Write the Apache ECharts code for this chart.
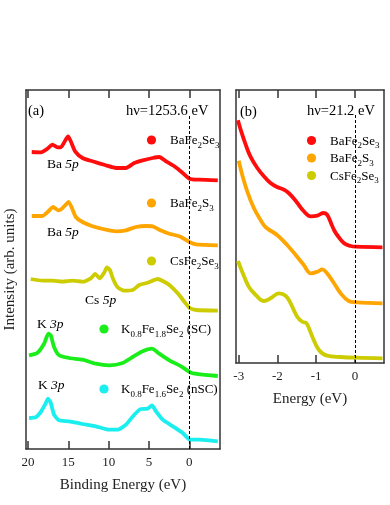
<!DOCTYPE html>
<html>
<head>
<meta charset="utf-8">
<script src="https://cdn.jsdelivr.net/npm/echarts@6/dist/echarts.min.js"></script>
<style>html,body{margin:0;padding:0;background:#fff;}#c{width:390px;height:505px;}</style>
</head>
<body>
<div id="c"></div>
<script>
// ---- Panel (a): XPS, hv = 1253.6 eV  [binding energy (eV), intensity (arb.)]
const xpsBaFe2Se3 = [[19.54,297],[18.42,296.7],[17.59,300.3],[16.97,304.3],[16.35,301.7],[15.94,301.7],[15.40,308.3],[15.03,312.7],[14.70,307.7],[14.16,297.7],[13.24,291],[12.0,287.7],[10.35,283.7],[9.1,281],[7.86,281],[6.83,286],[5.79,288.7],[4.55,291],[3.73,292],[2.89,287.7],[1.86,282.7],[0.82,276],[0,270.3],[-1.24,269.3],[-3.53,268.7]];
const xpsBaFe2S3 = [[19.54,233],[18.21,233],[17.47,237.7],[16.89,242],[16.27,238.7],[15.81,240.3],[15.32,244.3],[14.98,247],[14.61,242],[14.07,232],[13.24,227],[12.0,222.7],[10.35,219.3],[9.1,217.7],[7.86,218.7],[6.62,222],[5.38,223],[4.55,222.7],[3.73,219.3],[2.48,215.3],[1.24,212.7],[0,207],[-0.83,204.7],[-3.53,203.7]];
const xpsCsFe2Se3 = [[19.67,170],[18.21,168.3],[16.97,168.3],[15.73,167.3],[14.48,168.3],[13.24,167.3],[12.21,170.7],[11.68,175],[11.09,170.7],[10.56,176.3],[10.22,181.7],[9.85,179],[9.44,169.7],[8.89,161.7],[8.07,158.3],[7.03,159],[6.21,164],[5.17,166.3],[3.93,170],[3.30,168],[2.48,164],[1.44,155.7],[0.62,147.3],[-0.09,140.7],[-0.83,139],[-3.53,138.3]];
const xpsK08Fe18Se2 = [[19.88,93.7],[18.83,96.3],[18.01,105.3],[17.47,115.3],[17.18,113.7],[16.77,102],[16.15,93.7],[14.91,91],[13.24,89.3],[11.59,85.3],[9.94,83.7],[8.27,86],[7.03,92],[5.79,97.7],[4.63,100.3],[3.73,95.3],[2.48,88.7],[1.03,82.7],[-0.21,76.3],[-1.66,74.3],[-3.53,73]];
const xpsK08Fe16Se2 = [[19.88,31],[19.05,31.7],[18.42,37],[17.89,44.3],[17.52,50.3],[17.18,46],[16.77,34.3],[16.15,28.7],[14.91,27.7],[13.24,25],[11.59,22.7],[9.94,19.3],[8.89,19.3],[7.86,24.3],[6.83,34.3],[6.0,40],[5.17,40.3],[4.63,43.7],[4.14,37.7],[3.30,29.3],[2.06,22.7],[0.82,16],[-0.09,9.3],[-1.24,9.3],[-3.53,7.7]];
// ---- Panel (b): UPS, hv = 21.2 eV  [energy (eV), intensity (arb.)]
const upsBaFe2Se3 = [[-3.02,242.7],[-2.95,233.3],[-2.82,218.3],[-2.70,206.7],[-2.52,195],[-2.35,186.7],[-2.18,180],[-2.01,176],[-1.83,173.3],[-1.71,170],[-1.53,162.3],[-1.32,151.7],[-1.14,146.7],[-0.97,147.3],[-0.82,150],[-0.72,148.3],[-0.60,138.3],[-0.54,133],[-0.46,128],[-0.28,119.7],[-0.11,117],[0.02,116.3],[0.71,115.7]];
const upsBaFe2S3 = [[-3.00,202.3],[-2.91,188.3],[-2.78,171.7],[-2.61,155],[-2.44,143.3],[-2.31,136],[-2.01,128],[-1.75,118],[-1.53,108],[-1.32,98],[-1.14,89.7],[-0.97,91.3],[-0.84,93.7],[-0.72,89.7],[-0.54,79.7],[-0.37,69.7],[-0.16,62],[0.02,60.7],[0.71,59.7]];
const upsCsFe2Se3 = [[-3.02,102],[-2.91,91.3],[-2.74,76.3],[-2.56,68],[-2.35,62],[-2.18,64.7],[-1.96,69.7],[-1.79,67.3],[-1.66,59.7],[-1.49,46.3],[-1.36,41.3],[-1.25,39.7],[-1.10,26.3],[-0.93,13],[-0.72,7.3],[-0.37,6],[0.02,5.3],[0.71,4.7]];
// ---- ticks
const ticksA = [0, 5, 10, 15, 20];
const ticksB = [-3, -2, -1, 0];

const FONT = '"Liberation Serif", "DejaVu Serif", serif';
const C = {red:'#ff0d0d', orange:'#ffa500', olive:'#cccc00', green:'#1aee1a', cyan:'#1aeeee'};

const chart = echarts.init(document.getElementById('c'), null, {renderer:'canvas'});

function frameAxisX(gridIndex, min, max, inverse, ticks, pos, showLabel, name) {
  return {
    type:'value', gridIndex, min, max, inverse, position:pos,
    axisLine:{show:true, onZero:false, lineStyle:{color:'#333', width:1.5}},
    axisTick:{show:true, inside:true, length:8, customValues:ticks, lineStyle:{color:'#333', width:1.5}},
    axisLabel:{show:showLabel, customValues:ticks, margin:7, color:'#222', fontSize:13, fontFamily:FONT},
    splitLine:{show:false},
    name: name || '', nameLocation:'middle', nameGap:29,
    nameTextStyle:{color:'#222', fontSize:15, fontFamily:FONT}
  };
}
function frameAxisY(gridIndex, max, pos, name) {
  return {
    type:'value', gridIndex, min:0, max, position:pos,
    axisLine:{show:true, onZero:false, lineStyle:{color:'#333', width:1.5}},
    axisTick:{show:false}, axisLabel:{show:false}, splitLine:{show:false},
    name: name || '', nameLocation:'middle', nameGap:8, nameRotate:90,
    nameTextStyle:{color:'#222', fontSize:15, fontFamily:FONT}
  };
}
function curve(data, color, xi, yi, smooth) {
  return {type:'line', data, xAxisIndex:xi, yAxisIndex:yi, showSymbol:false, smooth:smooth,
    lineStyle:{color, width:3.8}, itemStyle:{color}, animation:false, z:3};
}
function vline(xi, yi, top) {
  return {type:'line', data:[], xAxisIndex:xi, yAxisIndex:yi, animation:false, z:2,
    markLine:{silent:true, symbol:'none', label:{show:false},
      lineStyle:{color:'#000', width:1, type:[3,2]},
      data:[[{coord:[0,0]},{coord:[0,top]}]]}};
}

const rich = {
  n:{fontSize:13, fontFamily:FONT, color:'#222', lineHeight:18},
  s:{fontSize:9, fontFamily:FONT, color:'#222', lineHeight:12, verticalAlign:'bottom'},
  i:{fontSize:13.5, fontFamily:FONT, color:'#222', lineHeight:18, fontStyle:'italic'},
  b:{fontSize:13.5, fontFamily:FONT, color:'#222', lineHeight:18},
  h:{fontSize:14.5, fontFamily:FONT, color:'#222', lineHeight:18}
};
function label(x, y, text) {
  return {type:'text', x, y, style:{text, rich, verticalAlign:'middle', align:'left'}, z:10};
}
function dot(x, y, color) {
  return {type:'circle', shape:{cx:x, cy:y, r:4.6}, style:{fill:color}, z:10};
}

const option = {
  backgroundColor:'#fff',
  animation:false,
  grid:[
    {left:26, top:90, width:194, height:359},
    {left:236, top:90, width:148, height:273}
  ],
  xAxis:[
    frameAxisX(0, -3.8, 20.25, true, ticksA, 'bottom', true, 'Binding Energy (eV)'),
    frameAxisX(0, -3.8, 20.25, true, ticksA, 'top', false),
    frameAxisX(1, -3.07, 0.75, false, ticksB, 'bottom', true, 'Energy (eV)'),
    frameAxisX(1, -3.07, 0.75, false, ticksB, 'top', false)
  ],
  yAxis:[
    frameAxisY(0, 359, 'left', 'Intensity (arb. units)'),
    frameAxisY(0, 359, 'right'),
    frameAxisY(1, 273, 'left'),
    frameAxisY(1, 273, 'right')
  ],
  series:[
    vline(0, 0, 334),
    vline(2, 2, 250),
    curve(xpsBaFe2Se3, C.red, 0, 0, 0.2),
    curve(xpsBaFe2S3, C.orange, 0, 0, 0.2),
    curve(xpsCsFe2Se3, C.olive, 0, 0, 0.2),
    curve(xpsK08Fe18Se2, C.green, 0, 0, 0.2),
    curve(xpsK08Fe16Se2, C.cyan, 0, 0, 0.2),
    curve(upsBaFe2Se3, C.red, 2, 2, 0.4),
    curve(upsBaFe2S3, C.orange, 2, 2, 0.4),
    curve(upsCsFe2Se3, C.olive, 2, 2, 0.4)
  ],
  graphic:[
    label(28, 111, '{h|(a)}'),
    label(126, 111, '{h|hν=1253.6 eV}'),
    dot(151.5, 140, C.red), label(170, 141, '{n|BaFe}{s|2}{n|Se}{s|3}'),
    dot(151.5, 203, C.orange), label(170, 204, '{n|BaFe}{s|2}{n|S}{s|3}'),
    dot(151.5, 261, C.olive), label(170, 262, '{n|CsFe}{s|2}{n|Se}{s|3}'),
    dot(104, 329, C.green), label(121, 330, '{n|K}{s|0.8}{n|Fe}{s|1.8}{n|Se}{s|2}{n| (SC)}'),
    dot(104, 389, C.cyan), label(121, 390, '{n|K}{s|0.8}{n|Fe}{s|1.6}{n|Se}{s|2}{n| (nSC)}'),
    label(47, 164, '{b|Ba }{i|5p}'),
    label(47, 232, '{b|Ba }{i|5p}'),
    label(85, 300, '{b|Cs }{i|5p}'),
    label(37, 324, '{b|K }{i|3p}'),
    label(38, 385, '{b|K }{i|3p}'),
    label(240, 112, '{h|(b)}'),
    label(307, 111, '{h|hν=21.2 eV}'),
    dot(311.5, 140.5, C.red), label(330, 141.5, '{n|BaFe}{s|2}{n|Se}{s|3}'),
    dot(311.5, 158, C.orange), label(330, 159, '{n|BaFe}{s|2}{n|S}{s|3}'),
    dot(311.5, 175.5, C.olive), label(330, 176.5, '{n|CsFe}{s|2}{n|Se}{s|3}')
  ]
};
chart.setOption(option);
</script>
</body>
</html>
